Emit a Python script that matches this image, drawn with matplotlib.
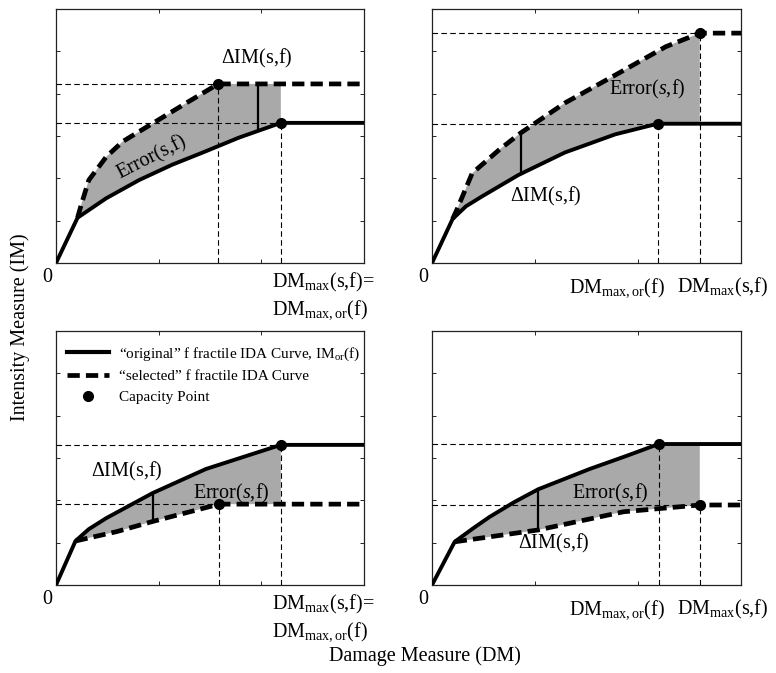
import matplotlib
matplotlib.use("Agg")
import matplotlib.pyplot as plt
from matplotlib.lines import Line2D

plt.rcParams['font.family'] = ['Liberation Serif', 'DejaVu Serif']
plt.rcParams['mathtext.fontset'] = 'custom'
plt.rcParams['mathtext.rm'] = 'Liberation Serif'
plt.rcParams['mathtext.it'] = 'Liberation Serif:italic'

# curve points (DM, IM) in arbitrary units
orig_tl_x = [0, 0.21, 0.49, 0.81, 1.13, 1.46, 1.78, 2.19]
orig_tl_y = [0, 1.07, 1.53, 1.96, 2.32, 2.64, 2.96, 3.31]
sel_tl_x = [0.21, 0.25, 0.32, 0.49, 0.65, 0.97, 1.29, 1.58]
sel_tl_y = [1.07, 1.41, 1.96, 2.51, 2.87, 3.34, 3.81, 4.23]
dim_tl = (1.97, 3.16, 4.23)

orig_tr_x = [0, 0.20, 0.33, 0.49, 0.84, 1.29, 1.78, 2.19]
orig_tr_y = [0, 1.04, 1.34, 1.58, 2.08, 2.61, 3.04, 3.29]
sel_tr_x = [0.20, 0.24, 0.39, 0.65, 0.86, 1.29, 1.78, 2.27, 2.60]
sel_tr_y = [1.04, 1.25, 2.12, 2.67, 3.07, 3.78, 4.44, 5.11, 5.43]
dim_tr = (0.86, 2.11, 3.07)

orig_bl_x = [0, 0.19, 0.32, 0.49, 0.94, 1.46, 2.19]
orig_bl_y = [0, 1.04, 1.32, 1.58, 2.17, 2.74, 3.31]
sel_bl_x = [0.19, 0.59, 0.94, 1.59]
sel_bl_y = [1.04, 1.26, 1.50, 1.91]
dim_bl = (0.94, 1.50, 2.17)

orig_br_x = [0, 0.22, 0.40, 0.56, 0.80, 1.03, 1.28, 1.53, 1.90, 2.20]
orig_br_y = [0, 1.02, 1.34, 1.61, 1.96, 2.26, 2.50, 2.74, 3.06, 3.33]
sel_br_x = [0.22, 1.03, 1.86, 2.60]
sel_br_y = [1.02, 1.30, 1.73, 1.89]
dim_br = (1.03, 1.30, 2.26)

XMAX, YMAX = 3.0, 6.0
FS = 14.5

fig = plt.figure(figsize=(7.76, 6.73), dpi=100)

boxes = {
    'tl': [56 / 776, 1 - 263 / 673, 308 / 776, 254 / 673],
    'tr': [432 / 776, 1 - 263 / 673, 309 / 776, 254 / 673],
    'bl': [56 / 776, 1 - 585 / 673, 308 / 776, 254 / 673],
    'br': [432 / 776, 1 - 585 / 673, 309 / 776, 254 / 673],
}

ref_kw = dict(color='k', lw=0.8, linestyle=(0, (5, 3)), zorder=3)
sel_style = (0, (2.6, 1.3))


def draw_panel(ax, ox, oy, sx, sy, dim):
    # gray area between the two curves up to the later capacity point
    xe = max(ox[-1], sx[-1])
    poly_x = list(sx) + [xe, xe] + list(ox[::-1])
    poly_y = list(sy) + [sy[-1], oy[-1]] + list(oy[::-1])
    ax.fill(poly_x, poly_y, color='#a9a9a9', lw=0, zorder=1)

    # reference lines to the axes
    for cx, cy in [(ox[-1], oy[-1]), (sx[-1], sy[-1])]:
        ax.plot([0, cx], [cy, cy], **ref_kw)
        ax.plot([cx, cx], [0, cy], **ref_kw)

    ax.plot(list(ox) + [XMAX], list(oy) + [oy[-1]], color='k', lw=2.8,
            solid_capstyle='butt', solid_joinstyle='round', zorder=5)
    ax.plot(list(sx) + [XMAX], list(sy) + [sy[-1]], color='k', lw=3.4,
            linestyle=sel_style, zorder=5)
    ax.plot([ox[-1], sx[-1]], [oy[-1], sy[-1]], 'o', color='k', ms=7,
            zorder=6, lw=0)
    ax.plot([dim[0], dim[0]], [dim[1], dim[2]], color='k', lw=1.6, zorder=4)

    ax.set_xlim(0, XMAX)
    ax.set_ylim(0, YMAX)
    ax.set_xticks([1, 2])
    ax.set_yticks([1, 2, 3, 4, 5])
    ax.tick_params(direction='in', length=3, width=0.6, top=True, right=True,
                   labelbottom=False, labelleft=False)
    for sp in ax.spines.values():
        sp.set_linewidth(0.9)
        sp.set_color('#222222')
    ax.text(-0.04, -0.12, '0', ha='right', va='top', fontsize=FS)


def two_line_label(ax):
    ax.text(2.10, -0.2, r'DM$_{\mathrm{max}}$(s,f)=', fontsize=FS, ha='left', va='top')
    ax.text(2.10, -0.82, r'DM$_{\mathrm{max,or}}$(f)', fontsize=FS, ha='left', va='top')


def side_labels(ax):
    ax.text(2.26, -0.3, r'DM$_{\mathrm{max,or}}$(f)', fontsize=FS, ha='right', va='top')
    ax.text(2.38, -0.3, r'DM$_{\mathrm{max}}$(s,f)', fontsize=FS, ha='left', va='top')


ax_tl = fig.add_axes(boxes['tl'])
draw_panel(ax_tl, orig_tl_x, orig_tl_y, sel_tl_x, sel_tl_y, dim_tl)
ax_tl.text(1.96, 4.55, r'$\Delta$IM(s,f)', fontsize=FS, ha='center', va='bottom')
ax_tl.text(0.93, 2.5, 'Error(s,f)', fontsize=FS, ha='center', va='center',
           rotation=27)
two_line_label(ax_tl)

ax_tr = fig.add_axes(boxes['tr'])
draw_panel(ax_tr, orig_tr_x, orig_tr_y, sel_tr_x, sel_tr_y, dim_tr)
ax_tr.text(1.10, 1.56, r'$\Delta$IM(s,f)', fontsize=FS, ha='center', va='center')
ax_tr.text(2.09, 4.09, r'Error($s$,f)', fontsize=FS, ha='center', va='center')
side_labels(ax_tr)

ax_bl = fig.add_axes(boxes['bl'])
draw_panel(ax_bl, orig_bl_x, orig_bl_y, sel_bl_x, sel_bl_y, dim_bl)
ax_bl.text(0.69, 2.67, r'$\Delta$IM(s,f)', fontsize=FS, ha='center', va='center')
ax_bl.text(1.71, 2.17, r'Error($s$,f)', fontsize=FS, ha='center', va='center')
two_line_label(ax_bl)

handles = [
    Line2D([], [], color='k', lw=3),
    Line2D([], [], color='k', lw=3.4, linestyle=sel_style),
    Line2D([], [], color='k', marker='o', ms=7, lw=0),
]
labels = [
    '\u201coriginal\u201d f fractile IDA Curve, IM$_{\\mathrm{or}}$(f)',
    '\u201cselected\u201d f fractile IDA Curve',
    'Capacity Point',
]
ax_bl.legend(handles, labels, loc='upper left', frameon=False, fontsize=11,
             handlelength=2.8, labelspacing=0.45, borderaxespad=0.3,
             handletextpad=0.6, bbox_to_anchor=(0.0, 0.985))

ax_br = fig.add_axes(boxes['br'])
draw_panel(ax_br, orig_br_x, orig_br_y, sel_br_x, sel_br_y, dim_br)
ax_br.text(1.18, 0.99, r'$\Delta$IM(s,f)', fontsize=FS, ha='center', va='center')
ax_br.text(1.73, 2.17, r'Error($s$,f)', fontsize=FS, ha='center', va='center')
side_labels(ax_br)

fig.text(0.026, 0.514, 'Intensity Measure (IM)', rotation=90, fontsize=FS,
         ha='center', va='center')
fig.text(0.548, 0.025, 'Damage Measure (DM)', fontsize=FS, ha='center',
         va='center')

fig.savefig('out.png', dpi=100)
